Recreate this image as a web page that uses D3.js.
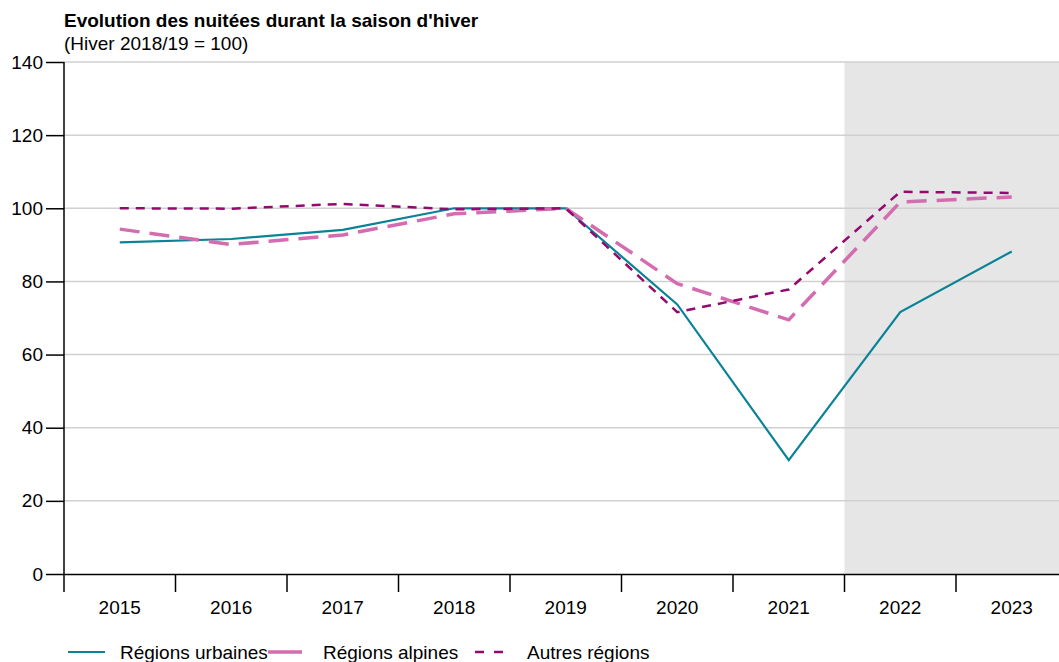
<!DOCTYPE html>
<html>
<head>
<meta charset="utf-8">
<script src="https://cdn.jsdelivr.net/npm/d3@7"></script>
<style>
  body { margin: 0; background: #fff; }
  svg { font-family: "Liberation Sans", Arial, sans-serif; }
</style>
</head>
<body>
<div class="chart"></div>
<script>
// data
var years = ["2015", "2016", "2017", "2018", "2019", "2020", "2021", "2022", "2023"];
var urbaines = [90.7, 91.6, 94.1, 100, 100, 73.7, 31.1, 71.6, 88.2];
var alpines = [94.3, 90.1, 92.7, 98.5, 100, 79.4, 69.5, 101.7, 103.1];
var autres = [100, 99.9, 101.2, 99.7, 100, 71.6, 77.8, 104.5, 104.2];
var yTicks = [0, 20, 40, 60, 80, 100, 120, 140];
var shadedFrom = "2022";

var W = 1059, H = 662;
var margin = {top: 62, left: 64};
var plotH = 512;
var bandW = 111.5;
var fs = 19;

var svg = d3.select(".chart")
    .append("svg")
    .attr("width", W)
    .attr("height", H);

var x = d3.scaleBand()
    .domain(years)
    .range([margin.left, margin.left + bandW * years.length]);
var y = d3.scaleLinear()
    .domain([0, 140])
    .range([margin.top + plotH, margin.top]);

// shaded area
svg.append("rect")
    .attr("x", x(shadedFrom))
    .attr("y", y(140))
    .attr("width", W - x(shadedFrom))
    .attr("height", y(0) - y(140))
    .attr("fill", "#e6e6e6");

// gridlines
svg.append("g")
    .selectAll("line")
    .data(yTicks.filter(function(d) { return d > 0; }))
    .join("line")
    .attr("x1", margin.left)
    .attr("x2", W)
    .attr("y1", function(d) { return y(d); })
    .attr("y2", function(d) { return y(d); })
    .attr("stroke", "#d0d0d0")
    .attr("stroke-width", 1.5);

// axes
var yAxis = svg.append("g")
    .attr("transform", "translate(" + margin.left + ",0)")
    .call(d3.axisLeft(y).tickValues(yTicks).tickSize(18).tickSizeOuter(0));
yAxis.select(".domain").attr("stroke", "#000").attr("stroke-width", 1.5)
    .attr("d", "M0," + y(0) + "V" + y(140));
yAxis.selectAll(".tick line").attr("stroke", "#000").attr("stroke-width", 1.5);
yAxis.selectAll(".tick text").attr("font-size", fs).attr("fill", "#000").attr("x", -21);

var xAxis = svg.append("g")
    .attr("transform", "translate(0," + y(0) + ")")
    .call(d3.axisBottom(x).tickSize(0).tickSizeOuter(0));
xAxis.select(".domain").attr("stroke", "#000").attr("stroke-width", 1.5);
xAxis.selectAll(".tick text").attr("font-size", fs).attr("fill", "#000")
    .attr("y", 34).attr("dy", "0.32em");

// band separator ticks
svg.append("g")
    .selectAll("line")
    .data(years)
    .join("line")
    .attr("x1", function(d) { return x(d); })
    .attr("x2", function(d) { return x(d); })
    .attr("y1", y(0))
    .attr("y2", y(0) + 18)
    .attr("stroke", "#000")
    .attr("stroke-width", 1.5);

// lines
var line = d3.line()
    .x(function(d, i) { return x(years[i]) + x.bandwidth() / 2; })
    .y(function(d) { return y(d); });

svg.append("path")
    .datum(urbaines)
    .attr("fill", "none")
    .attr("stroke", "#0a8396")
    .attr("stroke-width", 2.2)
    .attr("d", line);

svg.append("path")
    .datum(alpines)
    .attr("fill", "none")
    .attr("stroke", "#d46cb0")
    .attr("stroke-width", 3.5)
    .attr("stroke-dasharray", "20,10")
    .attr("d", line);

svg.append("path")
    .datum(autres)
    .attr("fill", "none")
    .attr("stroke", "#920a6e")
    .attr("stroke-width", 2.5)
    .attr("stroke-dasharray", "9,7")
    .attr("d", line);

// title
svg.append("text").attr("x", 64).attr("y", 27).text("Evolution des nuitées durant la saison d'hiver")
    .attr("font-size", fs).attr("font-weight", "bold").attr("fill", "#000");
svg.append("text").attr("x", 64).attr("y", 50).text("(Hiver 2018/19 = 100)")
    .attr("font-size", fs).attr("fill", "#000");

// legend
var legY = 652;
svg.append("line").attr("x1", 68).attr("x2", 105).attr("y1", legY).attr("y2", legY)
    .attr("stroke", "#0a8396").attr("stroke-width", 2.2);
svg.append("text").attr("x", 120).attr("y", legY).text("Régions urbaines")
    .attr("font-size", fs).attr("dominant-baseline", "central");
svg.append("line").attr("x1", 268).attr("x2", 302).attr("y1", legY).attr("y2", legY)
    .attr("stroke", "#d46cb0").attr("stroke-width", 3.5);
svg.append("text").attr("x", 323).attr("y", legY).text("Régions alpines")
    .attr("font-size", fs).attr("dominant-baseline", "central");
svg.append("line").attr("x1", 475).attr("x2", 503).attr("y1", legY).attr("y2", legY)
    .attr("stroke", "#920a6e").attr("stroke-width", 2.5).attr("stroke-dasharray", "9,10");
svg.append("text").attr("x", 527).attr("y", legY).text("Autres régions")
    .attr("font-size", fs).attr("dominant-baseline", "central");
</script>
</body>
</html>
